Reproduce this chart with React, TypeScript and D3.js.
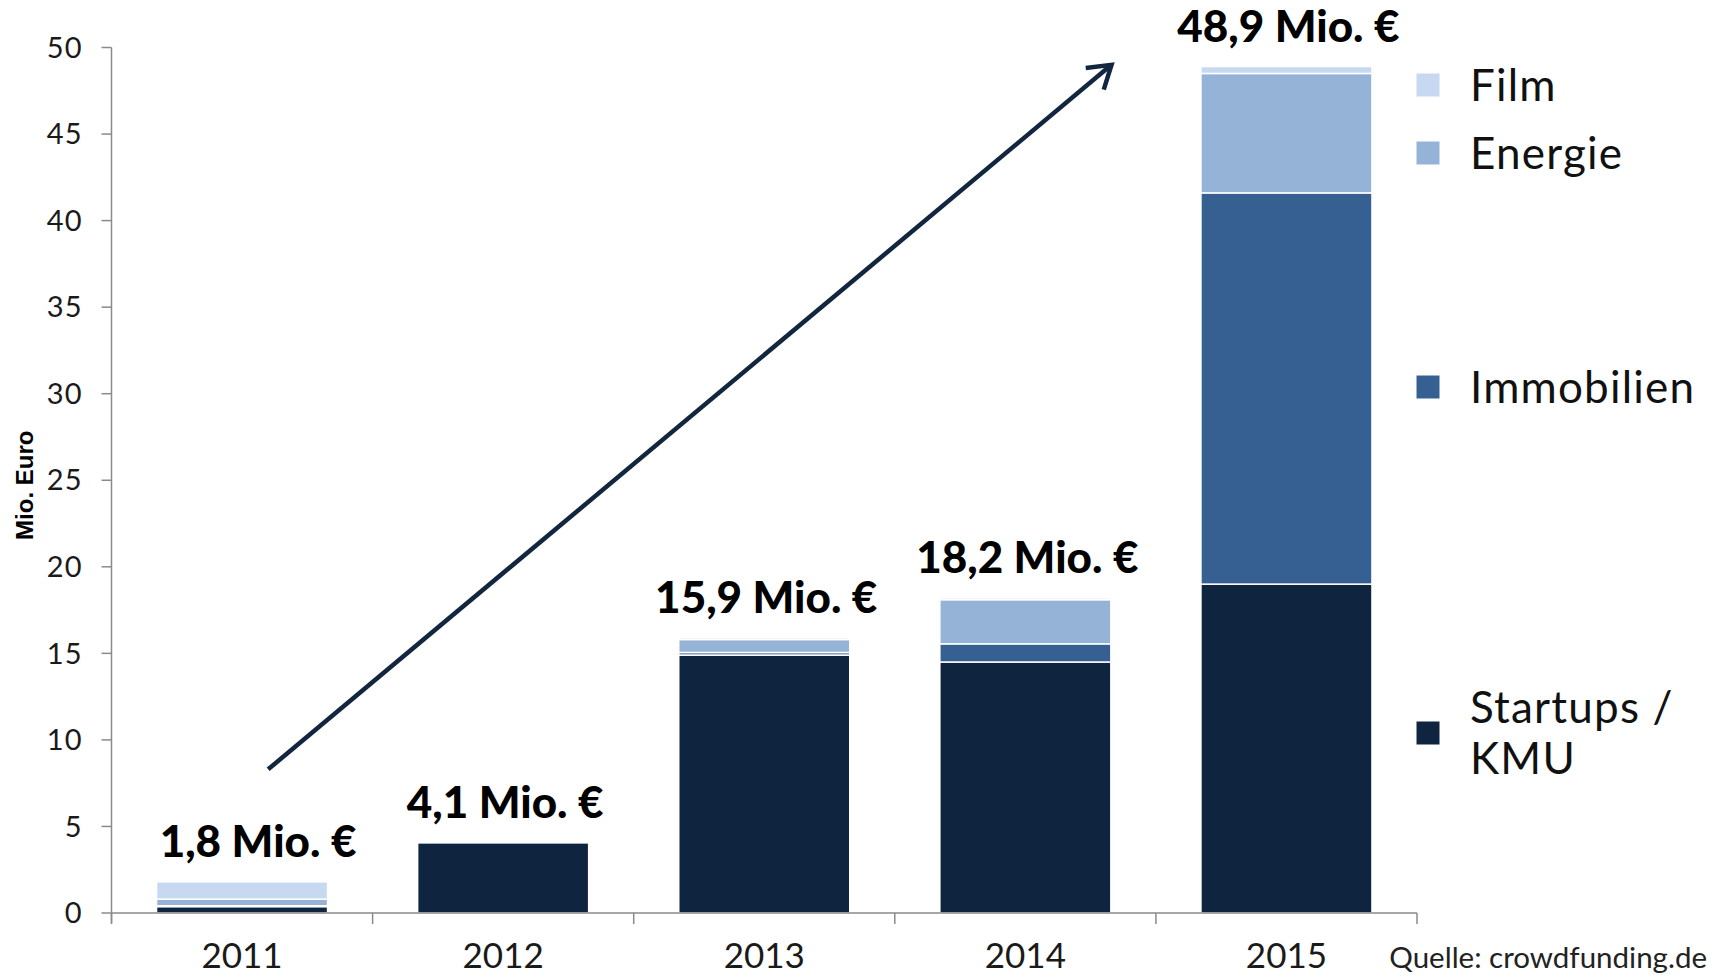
import { useEffect, useRef } from 'react';
import * as d3 from 'd3';

// Crowdfunding volume per year, Mio. Euro
const years = ['2011', '2012', '2013', '2014', '2015'];
const startups = [0.37, 4.05, 14.9, 14.5, 19.0];
const immobilien = [0.05, 0, 0.15, 1.05, 22.6];
const energie = [0.38, 0, 0.75, 2.55, 6.9];
const film = [1.0, 0, 0.1, 0.1, 0.4];
const totalLabels = ['1,8 Mio. €', '4,1 Mio. €', '15,9 Mio. €', '18,2 Mio. €', '48,9 Mio. €'];
const yTicks = [0, 5, 10, 15, 20, 25, 30, 35, 40, 45, 50];

const seriesKeys = ['startups', 'immobilien', 'energie', 'film'];
const seriesColors = ['#0f243e', '#366092', '#95b3d7', '#c6d9f1'];

// trend arrow as [category position, value]
const arrowFrom = [0.1, 8.3];
const arrowTo = [3.33, 49.0];

const FONT = 'Lato, "Open Sans", sans-serif';

export default function App() {
    const svgRef = useRef(null);

    useEffect(() => {
        const svg = d3.select(svgRef.current);
        svg.selectAll('*').remove();

        const W = 1729;
        const H = 977;
        const left = 111.5;
        const right = 1417;
        const top = 47.5;
        const bottom = 913;

        const rows = years.map((y, i) => ({
            year: y,
            startups: startups[i],
            immobilien: immobilien[i],
            energie: energie[i],
            film: film[i]
        }));

        const x = d3.scaleBand().domain(years).range([left, right]).paddingInner(0.345).paddingOuter(0.1725);
        const y = d3.scaleLinear().domain([0, 50]).range([bottom, top]);
        const band = (right - left) / years.length;
        const xPos = (p: number) => left + (p + 0.5) * band;

        svg.attr('width', W).attr('height', H);

        // Stacked bars
        const stacked = d3.stack().keys(seriesKeys)(rows as any);
        stacked.forEach((layer, si) => {
            svg.append('g')
                .selectAll('rect')
                .data(layer.filter(d => d[1] - d[0] > 0))
                .join('rect')
                .attr('x', d => x((d.data as any).year))
                .attr('width', x.bandwidth())
                .attr('y', d => y(d[1]))
                .attr('height', d => y(d[0]) - y(d[1]))
                .attr('fill', seriesColors[si])
                .attr('stroke', '#ffffff')
                .attr('stroke-width', 1.5);
        });

        // Y axis
        const axisColor = '#8a8a8a';
        svg.append('line')
            .attr('x1', left).attr('x2', left)
            .attr('y1', y(50)).attr('y2', bottom + 10)
            .attr('stroke', axisColor).attr('stroke-width', 1.5);

        const yt = svg.append('g');
        yt.selectAll('line')
            .data(yTicks)
            .join('line')
            .attr('x1', left - 10).attr('x2', left)
            .attr('y1', d => y(d)).attr('y2', d => y(d))
            .attr('stroke', axisColor).attr('stroke-width', 1.5);
        yt.selectAll('text')
            .data(yTicks)
            .join('text')
            .attr('x', left - 29)
            .attr('y', d => y(d))
            .attr('dy', '0.35em')
            .attr('text-anchor', 'end')
            .attr('font-family', FONT)
            .attr('font-size', 29)
            .attr('letter-spacing', 1)
            .attr('fill', '#1a1a1a')
            .text(d => d);

        // X axis
        svg.append('line')
            .attr('x1', left).attr('x2', right)
            .attr('y1', bottom).attr('y2', bottom)
            .attr('stroke', axisColor).attr('stroke-width', 1.5);
        svg.append('g')
            .selectAll('line')
            .data(d3.range(years.length + 1))
            .join('line')
            .attr('x1', d => left + d * band).attr('x2', d => left + d * band)
            .attr('y1', bottom).attr('y2', bottom + 11)
            .attr('stroke', axisColor).attr('stroke-width', 1.5);
        svg.append('g')
            .selectAll('text')
            .data(years)
            .join('text')
            .attr('x', d => x(d) + x.bandwidth() / 2)
            .attr('y', 968)
            .attr('text-anchor', 'middle')
            .attr('font-family', FONT)
            .attr('font-size', 35)
            .attr('fill', '#1a1a1a')
            .text(d => d);

        // Axis title
        svg.append('text')
            .attr('transform', `translate(33,${(top + bottom) / 2 + 5}) rotate(-90)`)
            .attr('text-anchor', 'middle')
            .attr('font-family', '"Liberation Sans Narrow", "Liberation Sans", sans-serif')
            .attr('font-weight', 'bold')
            .attr('font-size', 24)
            .attr('fill', '#000')
            .text('Mio. Euro');

        // Total labels (first one sits a little right of its bar, as in the original)
        const totals = rows.map((r, i) => startups[i] + immobilien[i] + energie[i] + film[i]);
        const labelDx = (i: number) => (i === 0 ? 16 : 2);
        svg.append('g')
            .selectAll('text')
            .data(years)
            .join('text')
            .attr('x', (d, i) => x(d) + x.bandwidth() / 2 + labelDx(i))
            .attr('y', (d, i) => y(totals[i]) - 25)
            .attr('text-anchor', 'middle')
            .attr('font-family', FONT)
            .attr('font-weight', 900)
            .attr('font-size', 44)
            .attr('fill', '#000')
            .text((d, i) => totalLabels[i]);

        // Trend arrow
        const ax1 = xPos(arrowFrom[0]);
        const ay1 = y(arrowFrom[1]);
        const ax2 = xPos(arrowTo[0]);
        const ay2 = y(arrowTo[1]);
        const ang = Math.atan2(ay2 - ay1, ax2 - ax1);
        const head = 26;
        const spread = Math.PI / 5.5;
        svg.append('line')
            .attr('x1', ax1).attr('y1', ay1)
            .attr('x2', ax2 - 2 * Math.cos(ang)).attr('y2', ay2 - 2 * Math.sin(ang))
            .attr('stroke', '#13263f').attr('stroke-width', 4.5);
        svg.append('path')
            .attr('d', d3.line()([
                [ax2 - head * Math.cos(ang - spread), ay2 - head * Math.sin(ang - spread)],
                [ax2, ay2],
                [ax2 - head * Math.cos(ang + spread), ay2 - head * Math.sin(ang + spread)]
            ]))
            .attr('fill', 'none')
            .attr('stroke', '#13263f')
            .attr('stroke-width', 4.5)
            .attr('stroke-linejoin', 'miter');

        // Legend
        const legend = [
            { label: ['Film'], cy: 85, color: seriesColors[3] },
            { label: ['Energie'], cy: 153, color: seriesColors[2] },
            { label: ['Immobilien'], cy: 387, color: seriesColors[1] },
            { label: ['Startups /', 'KMU'], cy: 733, color: seriesColors[0] }
        ];
        legend.forEach(item => {
            svg.append('rect')
                .attr('x', 1416).attr('y', item.cy - 12)
                .attr('width', 24).attr('height', 24)
                .attr('fill', item.color)
                .attr('stroke', '#ffffff').attr('stroke-width', 1);
            const lineH = 51;
            item.label.forEach((t, li) => {
                svg.append('text')
                    .attr('x', 1470)
                    .attr('y', item.cy + (li - (item.label.length - 1) / 2) * lineH)
                    .attr('dy', '0.36em')
                    .attr('font-family', FONT)
                    .attr('font-size', 44)
                    .attr('letter-spacing', 1.2)
                    .attr('fill', '#111')
                    .text(t);
            });
        });

        // Source
        svg.append('text')
            .attr('x', 1707)
            .attr('y', 968)
            .attr('text-anchor', 'end')
            .attr('font-family', FONT)
            .attr('font-size', 29.5)
            .attr('fill', '#222')
            .text('Quelle: crowdfunding.de');
    }, []);

    return (
        <div style={{ position: 'absolute', left: 0, top: 0, background: '#fff' }}>
            <svg ref={svgRef} style={{ display: 'block' }} />
        </div>
    );
}
